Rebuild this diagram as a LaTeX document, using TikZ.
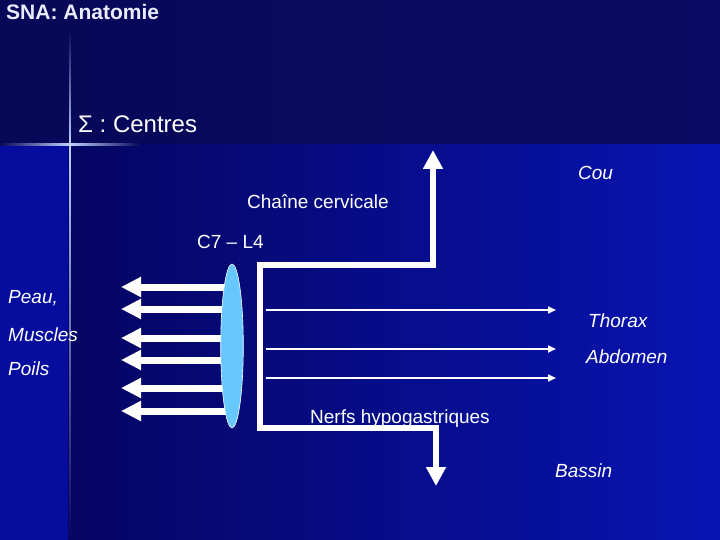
\documentclass[tikz,border=0pt]{standalone}
\usepackage{fontspec}
\setmainfont{Liberation Sans}
\usetikzlibrary{arrows.meta,shapes.geometric,backgrounds,calc}
\definecolor{bandnavy}{RGB}{8,8,88}
\definecolor{bandright}{RGB}{10,10,100}
\definecolor{deepnavy}{RGB}{5,5,98}
\definecolor{brightblue}{RGB}{8,20,178}
\definecolor{stripblue}{RGB}{6,12,158}
\definecolor{ganglion}{RGB}{102,200,255}
\definecolor{glow}{RGB}{190,210,255}

\begin{document}
\begin{tikzpicture}[x=1pt,y=-1pt,
  lbl/.style={text=white, inner sep=0pt, anchor=base west, font=\fontsize{19}{22}\selectfont},
  organ/.style={lbl, font=\fontsize{19}{22}\selectfont\itshape},
  fatarrow/.style={draw=white, line width=7pt, -{Triangle[length=20pt,width=19pt]}},
  trunk/.style={draw=white, line width=6pt, line join=miter,
    {Triangle[length=19pt,width=19pt]}-{Triangle[length=19pt,width=19pt]}},
  thinarrow/.style={draw=white, line width=1.8pt, -{Triangle[length=8pt,width=7pt]}}
]
\begin{scope}[on background layer]
  \useasboundingbox (0,0) rectangle (720,540);
  \shade[left color=bandnavy, right color=bandright] (0,0) rectangle (720,145);
  \fill[stripblue] (0,145) rectangle (68,540);
  \shade[left color=deepnavy, right color=brightblue] (68,145) rectangle (720,540);
  \shade[left color=bandnavy, right color=bandnavy, middle color=glow] (0,144) rectangle (140,146);
  \shade[top color=bandnavy, bottom color=glow] (69.3,30) rectangle (70.7,145);
  \shade[top color=glow, bottom color=deepnavy] (69.3,145) rectangle (70.7,540);
\end{scope}

\node[lbl, font=\fontsize{21}{24}\selectfont\bfseries, text=white!92!blue] (title) at (6,20) {SNA: Anatomie};
\node[lbl, font=\fontsize{24}{28}\selectfont] (centres) at (78,133) {Σ : Centres};
\node[lbl] (cervical) at (247,208) {Chaîne cervicale};
\node[lbl] (segment) at (197,248) {C7 – L4};

\node[ellipse, draw=white, line width=0.6pt, fill=ganglion, minimum width=22.6pt,
  minimum height=164pt, inner sep=0pt] (chain) at (232,346) {};

\begin{scope}[on background layer]
  \foreach \yy [count=\i] in {287,309,338,360,388,411} {
    \coordinate (skin\i) at (121,\yy);
    \draw[fatarrow] (chain.center |- skin\i) -- (skin\i);
  }
\end{scope}

\coordinate (couTip) at (433,150);
\coordinate (couFoot) at (433,265);
\coordinate (topCorner) at (260,265);
\coordinate (botCorner) at (260,428);
\coordinate (bassinFoot) at (436,428);
\coordinate (bassinTip) at (436,486);
\draw[trunk] (couTip) -- (couFoot) -- (topCorner) -- (botCorner) -- (bassinFoot) -- (bassinTip);

\foreach \yy [count=\i] in {310,349,378} {
  \coordinate (viscera\i) at (556,\yy);
  \draw[thinarrow] ($(topCorner |- viscera\i)+(6,0)$) -- (viscera\i);
}

\node[organ] (peau) at (8,303) {Peau,};
\node[organ] (muscles) at (8,341) {Muscles};
\node[organ] (poils) at (8,375) {Poils};
\node[organ] (cou) at (578,180) {Cou};
\node[organ] (thorax) at (588,327) {Thorax};
\node[organ] (abdomen) at (586,363) {Abdomen};
\node[organ] (bassin) at (555,477) {Bassin};
\node[lbl] (hypog) at (310,423) {Nerfs hypogastriques};
\end{tikzpicture}
\end{document}
